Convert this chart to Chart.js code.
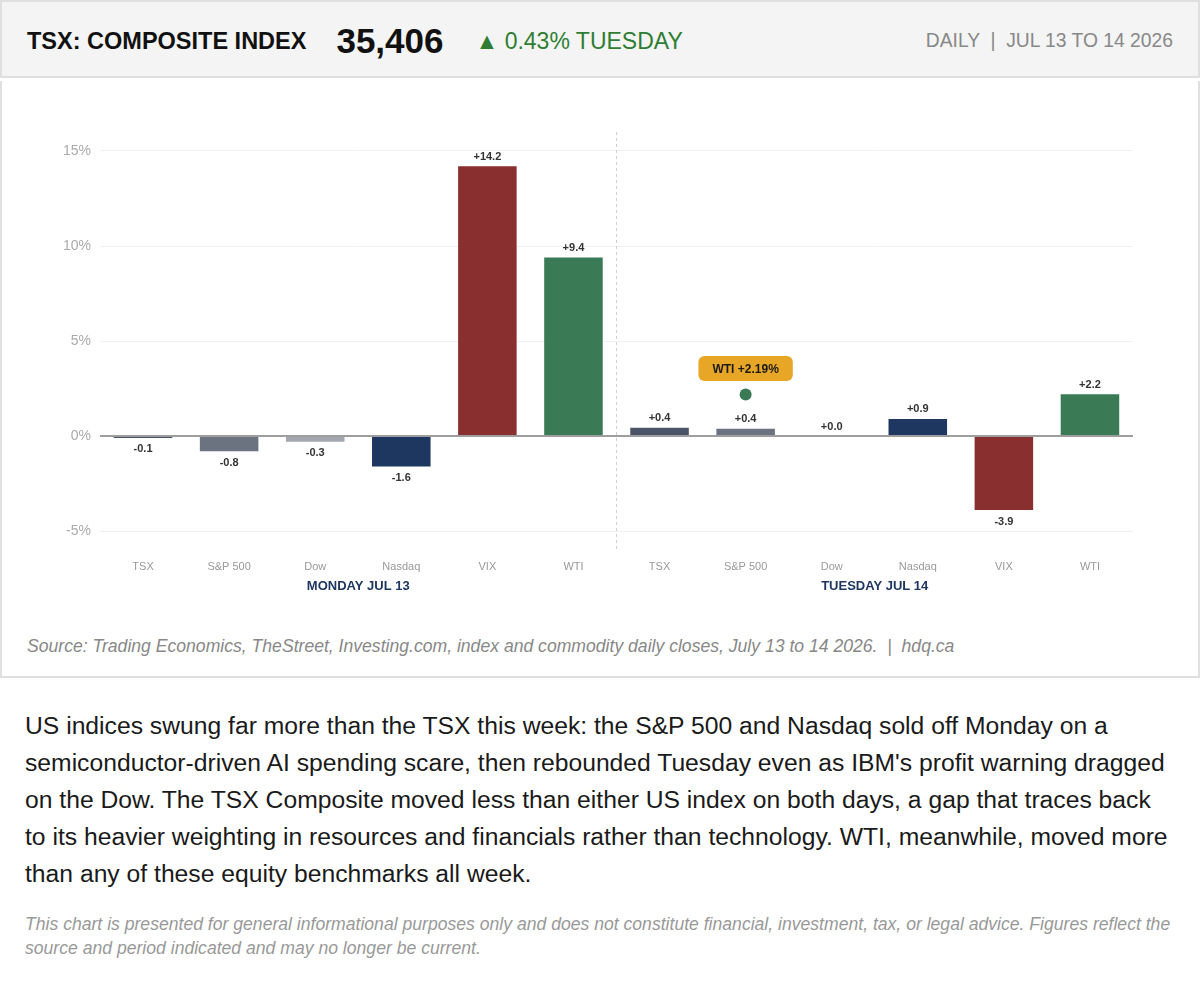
<!DOCTYPE html>
<html>
<head>
<meta charset="utf-8">
<script src="https://cdn.jsdelivr.net/npm/chart.js@4.4.1/dist/chart.umd.min.js"></script>
<style>
    body { margin: 0; background: #fff; font-family: "Liberation Sans", Arial, sans-serif; width: 1200px; }
    .header { height: 78px; box-sizing: border-box; border: 2px solid #e0e0e0; background: #f4f4f4; display: flex; align-items: center; padding: 4px 25px 0; }
    .title { font-weight: bold; font-size: 23.5px; color: #111; }
    .price { font-weight: bold; font-size: 35px; color: #111; margin-left: 30px; }
    .change { font-size: 23px; color: #2e7d32; margin-left: 32px; }
    .period { margin-left: auto; font-size: 19.3px; color: #888; }
    .card { height: 597px; box-sizing: border-box; border: 2px solid #e0e0e0; border-top: 0; }
    .chart-wrap { position: relative; height: 540px; margin-top: 3px; }
    .source { margin: 15px 25px 0; font-size: 17.6px; font-style: italic; color: #888; line-height: 20px; }
    .summary { margin: 29px 25px 0; font-size: 24.7px; line-height: 37px; color: #1a1a1a; }
    .disclaimer { margin: 20px 25px 0; font-size: 17.6px; line-height: 24px; font-style: italic; color: #999; }
</style>
</head>
<body>
<div class="header">
    <span class="title">TSX: COMPOSITE INDEX</span>
    <span class="price">35,406</span>
    <span class="change">&#9650; 0.43% TUESDAY</span>
    <span class="period">DAILY &nbsp;|&nbsp; JUL 13 TO 14 2026</span>
</div>
<div class="card">
    <div class="chart-wrap"><canvas id="Chart"></canvas></div>
    <div class="source">Source: Trading Economics, TheStreet, Investing.com, index and commodity daily closes, July 13 to 14 2026. &nbsp;|&nbsp; hdq.ca</div>
</div>
<p class="summary">US indices swung far more than the TSX this week: the S&amp;P 500 and Nasdaq sold off Monday on a semiconductor-driven AI spending scare, then rebounded Tuesday even as IBM's profit warning dragged on the Dow. The TSX Composite moved less than either US index on both days, a gap that traces back to its heavier weighting in resources and financials rather than technology. WTI, meanwhile, moved more than any of these equity benchmarks all week.</p>
<p class="disclaimer">This chart is presented for general informational purposes only and does not constitute financial, investment, tax, or legal advice. Figures reflect the source and period indicated and may no longer be current.</p>

<script>
//Data: daily % change per instrument, Monday then Tuesday.
const categories = ['TSX', 'S&P 500', 'Dow', 'Nasdaq', 'VIX', 'WTI', 'TSX', 'S&P 500', 'Dow', 'Nasdaq', 'VIX', 'WTI'];
const changes = [-0.1, -0.8, -0.3, -1.6, 14.2, 9.4, 0.43, 0.38, 0.0, 0.9, -3.9, 2.2];
const dayGroups = ['MONDAY JUL 13', 'TUESDAY JUL 14'];
const yTicks = [-5, 0, 5, 10, 15];

//Highlighted WTI close for Tuesday, drawn over the S&P 500 slot.
const markerValues = [null, null, null, null, null, null, null, 2.19, null, null, null, null];
const markerLabel = 'WTI +2.19%';

const instrumentColors = {
    'TSX': '#4a5467',
    'S&P 500': '#6b7280',
    'Dow': '#a2a6ae',
    'Nasdaq': '#1e3760',
    'VIX': '#8a2f30',
    'WTI': '#3a7a55'
};

/**
 * Draws the value labels, the day separator, day names and the marker pill.
 */
const overlayPlugin = {
    id: 'overlay',
    afterDatasetsDraw: function (chart) {
        let ctx = chart.ctx;
        let area = chart.chartArea;
        let x = chart.scales.x;

        ctx.save();

        //Dashed line between the two days
        let sepX = (x.getPixelForValue(5) + x.getPixelForValue(6)) / 2;
        ctx.strokeStyle = '#cfcfcf';
        ctx.lineWidth = 1;
        ctx.setLineDash([3, 3]);
        ctx.beginPath();
        ctx.moveTo(sepX, area.top);
        ctx.lineTo(sepX, area.bottom);
        ctx.stroke();
        ctx.setLineDash([]);

        //Value labels above or below each bar
        ctx.font = 'bold 11px "Liberation Sans", Arial, sans-serif';
        ctx.fillStyle = '#333';
        ctx.textAlign = 'center';
        chart.getDatasetMeta(0).data.forEach(function (bar, i) {
            let v = changes[i];
            let text = (v >= 0 ? '+' : '') + v.toFixed(1);
            if (v >= 0) {
                ctx.textBaseline = 'bottom';
                ctx.fillText(text, bar.x, bar.y - 4);
            } else {
                ctx.textBaseline = 'top';
                ctx.fillText(text, bar.x, bar.y + 6);
            }
        });

        //Day names under the category labels
        ctx.font = 'bold 13px "Liberation Sans", Arial, sans-serif';
        ctx.fillStyle = '#1e3760';
        ctx.textBaseline = 'middle';
        dayGroups.forEach(function (name, g) {
            let cx = (x.getPixelForValue(g * 6 + 2) + x.getPixelForValue(g * 6 + 3)) / 2;
            ctx.fillText(name, cx, area.bottom + 36);
        });

        //Pill above the marker point
        chart.getDatasetMeta(1).data.forEach(function (pt, i) {
            if (markerValues[i] === null) return;
            ctx.font = 'bold 12px "Liberation Sans", Arial, sans-serif';
            let w = ctx.measureText(markerLabel).width + 28;
            let h = 25;
            let cy = pt.y - 26;
            ctx.fillStyle = '#e8a626';
            ctx.beginPath();
            ctx.roundRect(pt.x - w / 2, cy - h / 2, w, h, 6);
            ctx.fill();
            ctx.fillStyle = '#1a1a1a';
            ctx.fillText(markerLabel, pt.x, cy + 1);
        });

        ctx.restore();
    }
};

//The chart configuration
config = {
    type: 'bar',
    data: {
        labels: categories,
        datasets: [{
            label: 'Daily change',
            data: changes,
            backgroundColor: categories.map(function (c) { return instrumentColors[c]; }),
            categoryPercentage: 1,
            barPercentage: 0.68,
            order: 2
        }, {
            type: 'line',
            label: 'WTI',
            data: markerValues,
            showLine: false,
            pointRadius: 6,
            pointBackgroundColor: '#3a7a55',
            pointBorderWidth: 0,
            order: 1
        }]
    },
    options: {
        responsive: true,
        maintainAspectRatio: false,
        animation: false,
        layout: { padding: { top: 51, right: 65, left: 0, bottom: 0 } },
        plugins: {
            legend: { display: false },
            tooltip: { enabled: false }
        },
        scales: {
            x: {
                grid: { display: false },
                border: { display: false },
                ticks: {
                    color: '#999',
                    font: { size: 11, family: '"Liberation Sans", Arial, sans-serif' },
                    padding: 2,
                    maxRotation: 0,
                    autoSkip: false
                },
                afterFit: function (scale) { scale.height = 71; }
            },
            y: {
                min: -6,
                max: 16,
                border: { display: false },
                grid: {
                    drawTicks: false,
                    color: function (c) { return c.tick && c.tick.value === 0 ? '#9e9e9e' : '#f0f0f0'; },
                    lineWidth: function (c) { return c.tick && c.tick.value === 0 ? 2 : 1; }
                },
                ticks: {
                    color: '#aaa',
                    padding: 9,
                    font: { size: 14, family: '"Liberation Sans", Arial, sans-serif' },
                    callback: function (v) { return v + '%'; }
                },
                afterBuildTicks: function (scale) {
                    scale.ticks = yTicks.map(function (v) { return { value: v }; });
                },
                afterFit: function (scale) { scale.width = 98; }
            }
        }
    },
    plugins: [overlayPlugin]
};

window.onload = function () {
    window.myChart = new Chart(document.getElementById('Chart').getContext('2d'), config);
};
</script>
</body>
</html>
